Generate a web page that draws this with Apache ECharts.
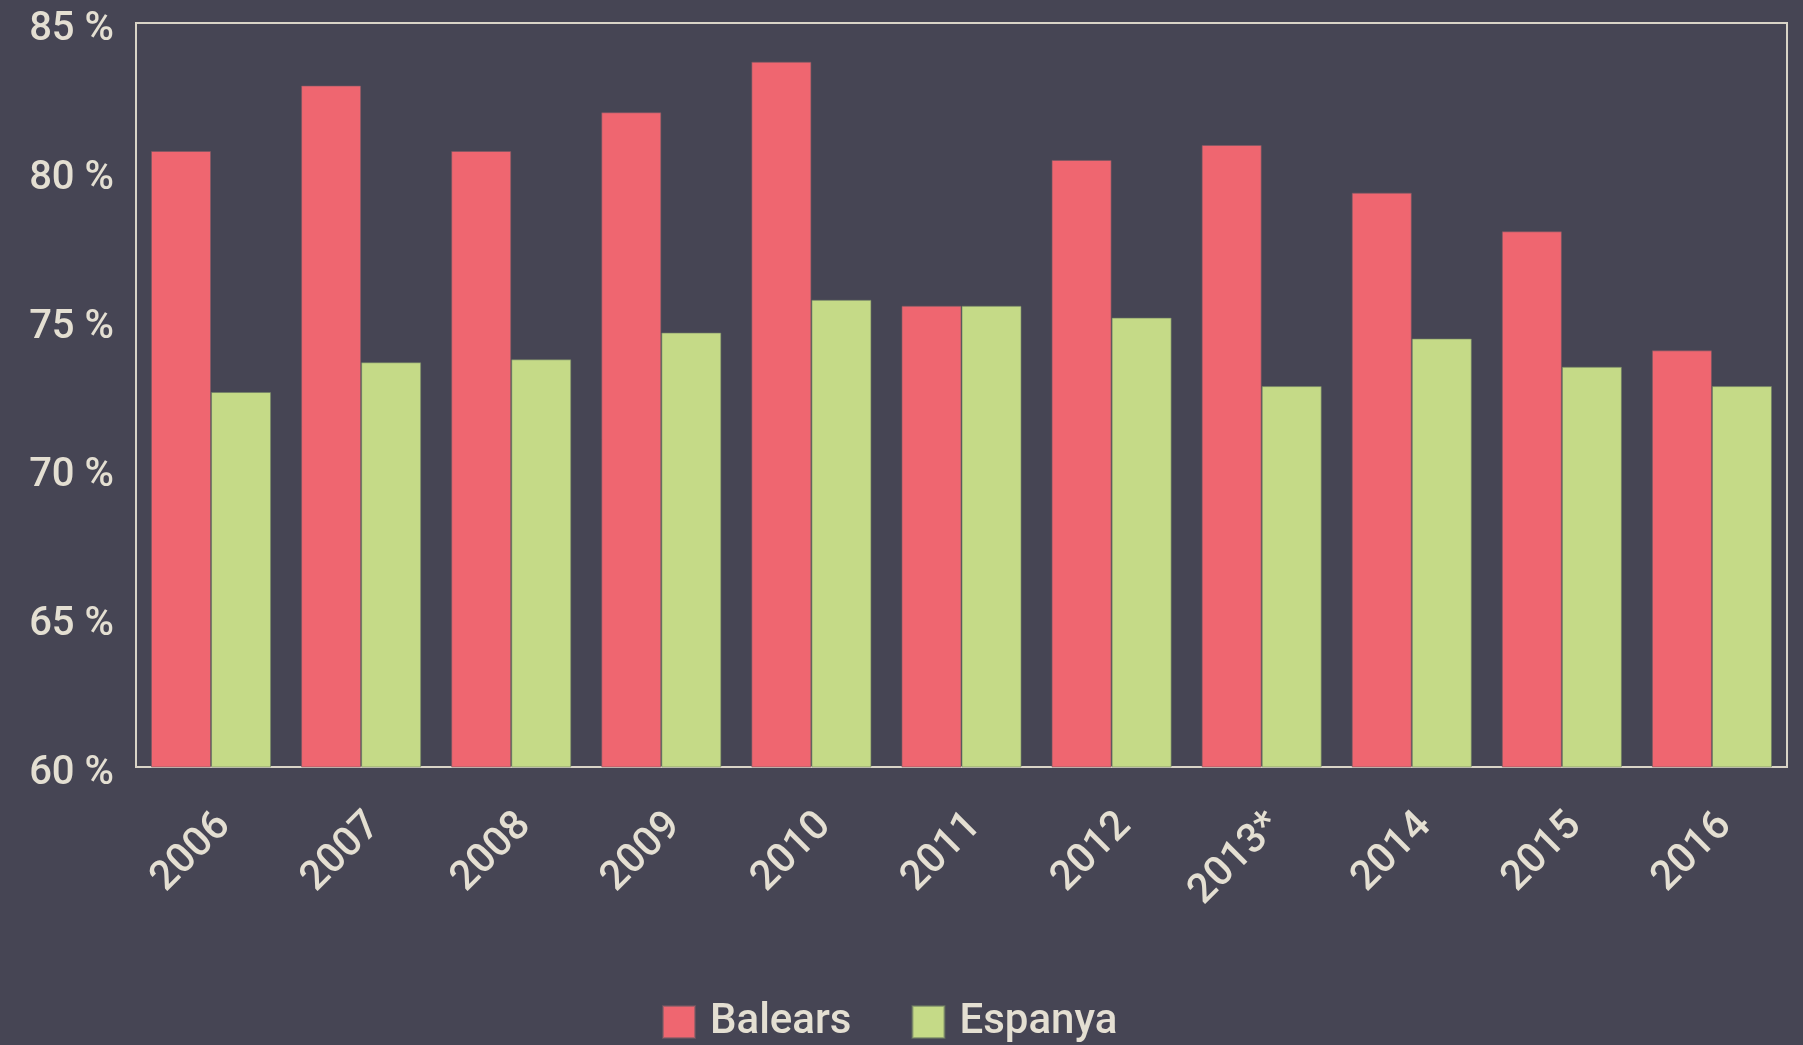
<!DOCTYPE html>
<html>
<head>
<meta charset="utf-8">
<script src="https://cdn.jsdelivr.net/npm/echarts@6/dist/echarts.min.js"></script>
<style>
html,body{margin:0;padding:0;background:#464554;}
#c{width:1803px;height:1045px;}
</style>
</head>
<body>
<div id="c"></div>
<script>
const categories = ['2006','2007','2008','2009','2010','2011','2012','2013*','2014','2015','2016'];
const balears = [80.7, 82.9, 80.7, 82.0, 83.7, 75.5, 80.4, 80.9, 79.3, 78.0, 74.0];
const espanya = [72.6, 73.6, 73.7, 74.6, 75.7, 75.5, 75.1, 72.8, 74.4, 73.45, 72.8];
const yTicks = [60, 65, 70, 75, 80, 85];

const textColor = '#e4dfd2';
const font = 'Roboto';
const lbl = (size, pad) => ({ color: textColor, fontSize: size, fontWeight: 500, fontFamily: font, padding: pad });

const chart = echarts.init(document.getElementById('c'));
chart.setOption({
  backgroundColor: '#464554',
  animation: false,
  grid: {
    left: 136, right: 16, top: 23, bottom: 278,
    show: true, borderColor: '#d9d4c7', borderWidth: 2, backgroundColor: 'transparent'
  },
  legend: {
    left: 657, top: 996,
    itemWidth: 32, itemHeight: 32, itemGap: 60,
    icon: 'rect',
    textStyle: { color: textColor, fontSize: 42, fontWeight: 500, fontFamily: font, padding: [0, 0, 0, 10] },
    data: ['Balears', 'Espanya']
  },
  xAxis: {
    type: 'category',
    data: categories,
    axisLine: { show: false },
    axisTick: { show: false },
    axisLabel: {
      color: textColor, fontSize: 41, fontWeight: 500, fontFamily: font,
      rotate: 45, margin: 39, interval: 0,
      formatter: v => '{a|' + v + '}',
      rich: { a: lbl(41, [38, 0, 0, 0]) }
    }
  },
  yAxis: {
    type: 'value',
    min: yTicks[0], max: yTicks[yTicks.length - 1], interval: 5,
    splitLine: { show: false },
    axisLine: { show: false },
    axisTick: { show: false },
    axisLabel: {
      color: textColor, fontSize: 40, fontWeight: 500, fontFamily: font, margin: 22,
      formatter: v => '{a|' + v + ' %}',
      rich: { a: lbl(40, [14, 0, 0, 0]) }
    }
  },
  series: [
    {
      name: 'Balears', type: 'bar', data: balears,
      barGap: '0%', barCategoryGap: '20%',
      itemStyle: { color: '#ef6670', borderColor: 'rgba(120,90,100,0.6)', borderWidth: 1 }
    },
    {
      name: 'Espanya', type: 'bar', data: espanya,
      barGap: '0%', barCategoryGap: '20%',
      itemStyle: { color: '#c5da87', borderColor: 'rgba(110,125,100,0.6)', borderWidth: 1 }
    }
  ]
});
</script>
</body>
</html>
